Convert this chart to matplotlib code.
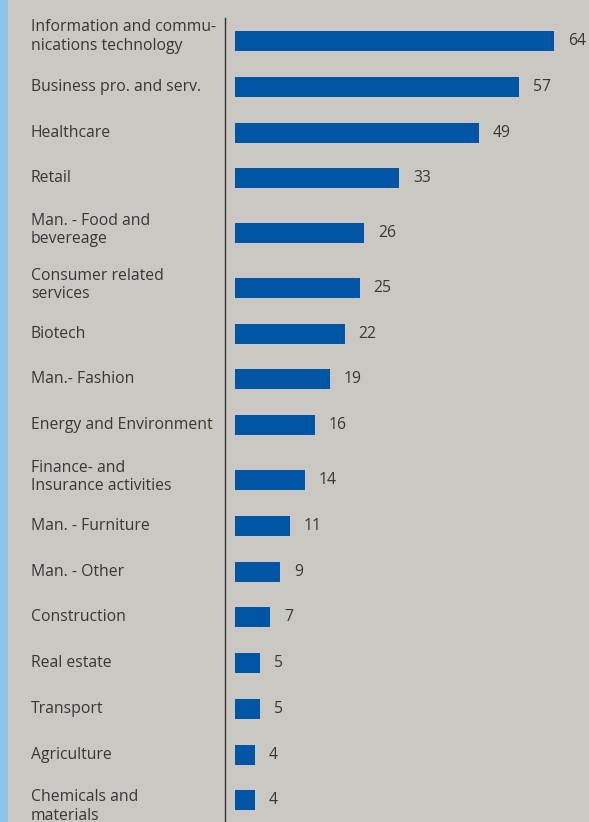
import matplotlib
matplotlib.use("Agg")
import matplotlib.pyplot as plt
from matplotlib.patches import Rectangle
from matplotlib.transforms import blended_transform_factory

categories = [
    "Information and commu-\nnications technology",
    "Business pro. and serv.",
    "Healthcare",
    "Retail",
    "Man. - Food and\nbevereage",
    "Consumer related\nservices",
    "Biotech",
    "Man.- Fashion",
    "Energy and Environment",
    "Finance- and\nInsurance activities",
    "Man. - Furniture",
    "Man. - Other",
    "Construction",
    "Real estate",
    "Transport",
    "Agriculture",
    "Chemicals and\nmaterials",
]
values = [64, 57, 49, 33, 26, 25, 22, 19, 16, 14, 11, 9, 7, 5, 5, 4, 4]

BG = "#cbc7c2"
BAR = "#0055a5"
TEXT = "#383838"
STRIP = "#8fc4ea"

plt.rcParams["font.family"] = ["Open Sans", "DejaVu Sans"]

W, H, DPI = 589, 822, 100
FS = 11.3
fig = plt.figure(figsize=(W / DPI, H / DPI), dpi=DPI, facecolor=BG)

# light blue strip along the left edge
fig.patches.append(Rectangle((0, 0), 8 / W, 1, transform=fig.transFigure,
                             facecolor=STRIP, edgecolor="none"))

# row centres: interior rows with two-line labels get extra room,
# the last label simply hangs below the bottom edge
n = len(categories)
base_gap, extra_gap = 45.8, 8.9
ypos = [0.0]
for i in range(1, n):
    lines = categories[i].count("\n")
    extra = extra_gap * lines if i < n - 1 else 0.0
    ypos.append(ypos[-1] + base_gap + extra)

# axes spans from the divider line to the right edge; one value unit ~ 4.98 px
px_per_unit = 4.98
ax_left, ax_top = 225, 18
ax = fig.add_axes([ax_left / W, 0, (W - ax_left) / W, (H - ax_top) / H])
ax.set_facecolor("none")
x0 = -(235 - ax_left) / px_per_unit
ax.set_xlim(x0, x0 + (W - ax_left) / px_per_unit)
first_center = 41
ax.set_ylim(ypos[0] + (H - first_center), ypos[0] - (first_center - ax_top))

ax.barh(ypos, values, height=20, color=BAR, edgecolor="none")

for y, v in zip(ypos, values):
    ax.annotate(str(v), (v, y), xytext=(14 * 72 / DPI, 0), textcoords="offset points",
                ha="left", va="center", fontsize=FS, color=TEXT)

trans = blended_transform_factory(fig.transFigure, ax.transData)
for i, (y, lab) in enumerate(zip(ypos, categories)):
    if i == 0:
        dy = -4.5        # top label sits flush with the divider's top
    elif i == n - 1:
        dy = 6           # bottom label hangs below its bar
    elif "\n" in lab:
        dy = -3
    else:
        dy = 0
    ax.text(31 / W, y + dy, lab, transform=trans, ha="left", va="center",
            fontsize=FS, color=TEXT, linespacing=1.17, clip_on=False)

for s in ["top", "right", "bottom"]:
    ax.spines[s].set_visible(False)
ax.spines["left"].set_color("#333333")
ax.spines["left"].set_linewidth(1.0)
ax.set_xticks([])
ax.set_yticks([])

fig.savefig("out.png", dpi=DPI, facecolor=BG)
